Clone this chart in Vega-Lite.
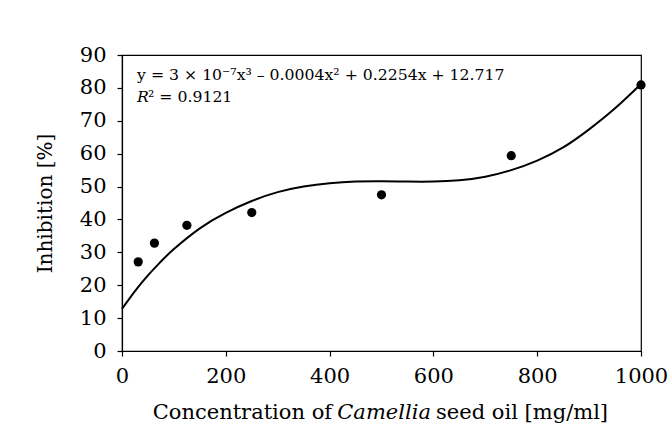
{
  "$schema": "https://vega.github.io/schema/vega-lite/v6.json",
  "width": 519,
  "height": 296,
  "autosize": {"type": "none"},
  "padding": {"left": 122, "top": 55, "right": 28, "bottom": 85},
  "background": "white",
  "config": {
    "font": "DejaVu Serif",
    "view": {"stroke": "black", "strokeWidth": 1.2},
    "axis": {
      "grid": false,
      "domainColor": "black",
      "domainWidth": 1.2,
      "tickColor": "black",
      "tickWidth": 1.2,
      "tickSize": 5,
      "labelColor": "black",
      "labelFont": "DejaVu Serif",
      "labelFontSize": 21,
      "labelOverlap": false,
      "labelFlush": false,
      "titleColor": "black",
      "titleFont": "DejaVu Serif",
      "titleFontSize": 20,
      "titleFontWeight": "normal"
    }
  },
  "datasets": {
    "curve": [
      {"conc": 0, "inh": 12.8},
      {"conc": 25, "inh": 18.2},
      {"conc": 50, "inh": 23.0},
      {"conc": 75, "inh": 27.2},
      {"conc": 100, "inh": 31.0},
      {"conc": 150, "inh": 37.3},
      {"conc": 200, "inh": 42.0},
      {"conc": 250, "inh": 45.6},
      {"conc": 300, "inh": 48.3},
      {"conc": 350, "inh": 50.0},
      {"conc": 400, "inh": 51.0},
      {"conc": 450, "inh": 51.5},
      {"conc": 500, "inh": 51.6},
      {"conc": 550, "inh": 51.5},
      {"conc": 600, "inh": 51.5},
      {"conc": 650, "inh": 51.9},
      {"conc": 700, "inh": 53.0},
      {"conc": 750, "inh": 55.0},
      {"conc": 800, "inh": 57.9},
      {"conc": 850, "inh": 61.9},
      {"conc": 900, "inh": 67.4},
      {"conc": 950, "inh": 73.8},
      {"conc": 1000, "inh": 81.2}
    ],
    "obs": [
      {"conc": 31.25, "inh": 27.1},
      {"conc": 62.5, "inh": 32.8},
      {"conc": 125, "inh": 38.2},
      {"conc": 250, "inh": 42.1},
      {"conc": 500, "inh": 47.5},
      {"conc": 750, "inh": 59.4},
      {"conc": 1000, "inh": 80.9}
    ],
    "one": [{}]
  },
  "encoding": {
    "x": {
      "type": "quantitative",
      "scale": {"domain": [0, 1000], "nice": false},
      "axis": {"values": [0, 200, 400, 600, 800, 1000], "format": "d", "labelPadding": 9, "title": null}
    },
    "y": {
      "type": "quantitative",
      "scale": {"domain": [0, 90], "nice": false},
      "axis": {"values": [0, 10, 20, 30, 40, 50, 60, 70, 80, 90], "format": "d", "labelPadding": 11, "title": "Inhibition [%]", "titlePadding": 24}
    }
  },
  "layer": [
    {
      "data": {"name": "curve"},
      "mark": {"type": "line", "color": "black", "strokeWidth": 2, "interpolate": "natural"},
      "encoding": {
        "x": {"field": "conc", "type": "quantitative", "scale": {"domain": [0, 1000], "nice": false}, "axis": {"values": [0, 200, 400, 600, 800, 1000], "format": "d", "labelPadding": 9, "title": null}},
        "y": {"field": "inh", "type": "quantitative", "scale": {"domain": [0, 90], "nice": false}, "axis": {"values": [0, 10, 20, 30, 40, 50, 60, 70, 80, 90], "format": "d", "labelPadding": 11, "title": "Inhibition [%]", "titlePadding": 24}}
      }
    },
    {
      "data": {"name": "obs"},
      "mark": {"type": "point", "filled": true, "color": "black", "opacity": 1, "size": 85},
      "encoding": {
        "x": {"field": "conc", "type": "quantitative", "scale": {"domain": [0, 1000], "nice": false}, "axis": {"values": [0, 200, 400, 600, 800, 1000], "format": "d", "labelPadding": 9, "title": null}},
        "y": {"field": "inh", "type": "quantitative", "scale": {"domain": [0, 90], "nice": false}, "axis": {"values": [0, 10, 20, 30, 40, 50, 60, 70, 80, 90], "format": "d", "labelPadding": 11, "title": "Inhibition [%]", "titlePadding": 24}}
      }
    },
    {
      "data": {"name": "one"},
      "mark": {"type": "text", "align": "left", "baseline": "middle", "fontSize": 15.7, "color": "black"},
      "encoding": {
        "x": {"datum": 29},
        "y": {"datum": 84},
        "text": {"value": "y = 3 × 10⁻⁷x³ – 0.0004x² + 0.2254x + 12.717"}
      }
    },
    {
      "data": {"name": "one"},
      "mark": {"type": "text", "align": "left", "baseline": "middle", "fontSize": 15.7, "fontStyle": "italic", "color": "black"},
      "encoding": {
        "x": {"datum": 29},
        "y": {"datum": 77.2},
        "text": {"value": "R"}
      }
    },
    {
      "data": {"name": "one"},
      "mark": {"type": "text", "align": "left", "baseline": "middle", "fontSize": 15.7, "dx": 11, "color": "black"},
      "encoding": {
        "x": {"datum": 29},
        "y": {"datum": 77.2},
        "text": {"value": "² = 0.9121"}
      }
    },
    {
      "data": {"name": "one"},
      "mark": {"type": "text", "align": "right", "baseline": "middle", "fontSize": 21, "dx": -52, "color": "black"},
      "encoding": {
        "x": {"datum": 505},
        "y": {"datum": -18.8},
        "text": {"value": "Concentration of"}
      }
    },
    {
      "data": {"name": "one"},
      "mark": {"type": "text", "align": "center", "baseline": "middle", "fontSize": 21, "fontStyle": "italic", "color": "black"},
      "encoding": {
        "x": {"datum": 505},
        "y": {"datum": -18.8},
        "text": {"value": "Camellia"}
      }
    },
    {
      "data": {"name": "one"},
      "mark": {"type": "text", "align": "left", "baseline": "middle", "fontSize": 21, "dx": 52, "color": "black"},
      "encoding": {
        "x": {"datum": 505},
        "y": {"datum": -18.8},
        "text": {"value": "seed oil [mg/ml]"}
      }
    }
  ]
}
